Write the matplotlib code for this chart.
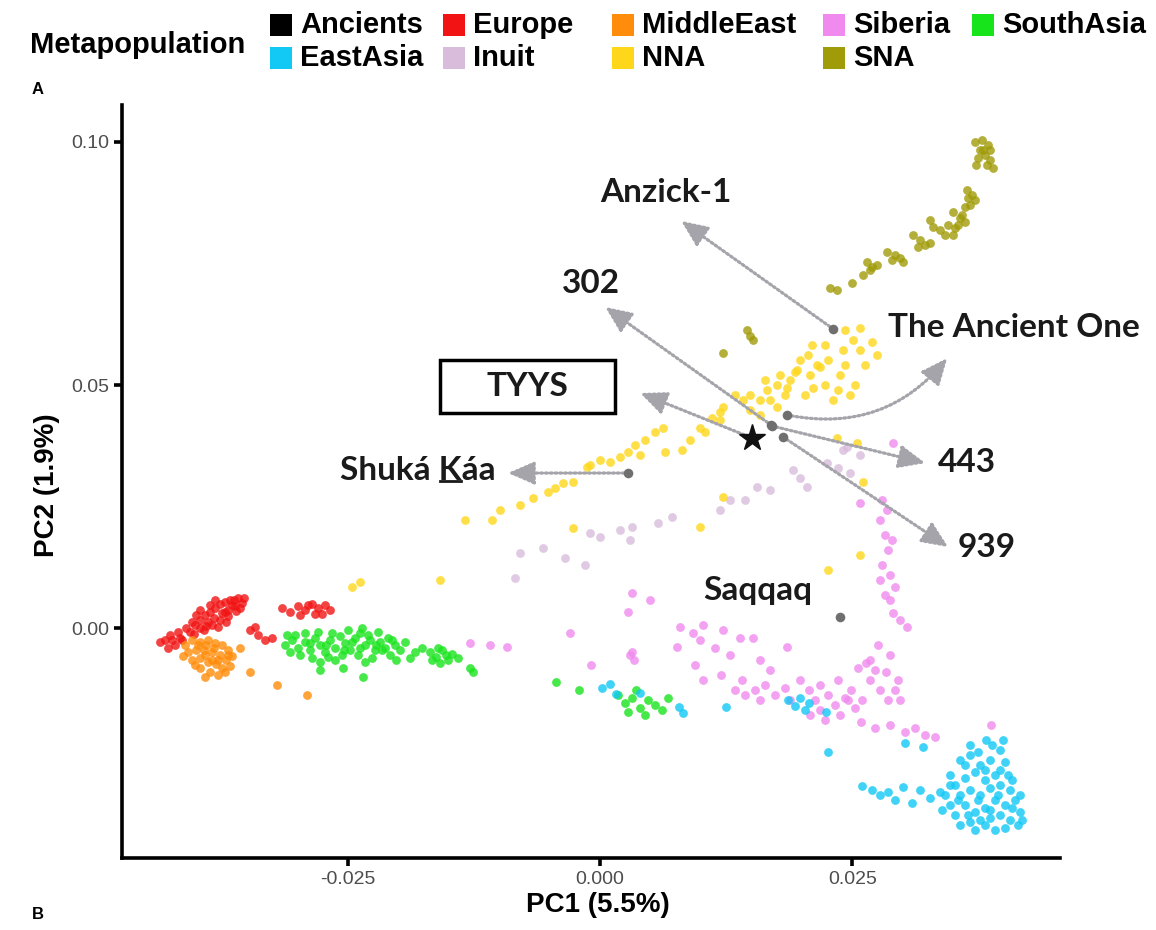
import matplotlib
matplotlib.use("Agg")
import matplotlib.pyplot as plt
from matplotlib.patches import Rectangle
from matplotlib.lines import Line2D
from matplotlib.transforms import IdentityTransform

# ---------------- data (PC1, PC2) ----------------
europe_pc1 = [-0.04067, -0.04018, -0.03968, -0.03919, -0.03869, -0.03819, -0.03770, -0.03720, -0.03671, -0.03591,
              -0.03552, -0.03621, -0.03690, -0.03750, -0.03829, -0.03889, -0.03968, -0.04028, -0.03929, -0.03849,
              -0.03770, -0.03690, -0.03611, -0.03790, -0.03710, -0.03651, -0.03571, -0.03869, -0.04008, -0.04107,
              -0.04315, -0.04266, -0.04216, -0.04167, -0.04286, -0.04187, -0.04365, -0.03472, -0.03393, -0.03323,
              -0.03254, -0.03423, -0.03155, -0.03075, -0.02996, -0.02927, -0.02857, -0.02798, -0.02728, -0.02679,
              -0.02976, -0.02827, -0.02758, -0.02897,
              -0.03968, -0.03819, -0.03720, -0.04048, -0.03909, -0.03631, -0.03532, -0.04147, -0.04246]
europe_pc2 = [-0.00082, 0.00062, 0.00165, 0.00267, 0.00329, 0.00412, 0.00494, 0.00535, 0.00576, 0.00617,
              0.00514, 0.00453, 0.00370, 0.00309, 0.00206, 0.00123, 0.0, -0.00123, -0.00041, 0.00062,
              0.00165, 0.00247, 0.00350, 0.00021, 0.00123, 0.00473, 0.00412, 0.00473, 0.00267, 0.0,
              -0.00247, -0.00144, -0.00350, -0.00206, -0.00412, -0.00082, -0.00288, -0.00041, -0.00144, -0.00247,
              -0.00206, 0.00021, 0.00412, 0.00329, 0.00453, 0.00370, 0.00494, 0.00412, 0.00473, 0.00370,
              0.00267, 0.00288, 0.00288, 0.00473,
              0.00370, 0.00576, 0.00329, 0.00123, 0.00041, 0.00576, 0.00617, -0.00247, -0.00247]

middleeast_pc1 = [-0.04117, -0.04048, -0.03968, -0.03889, -0.03819, -0.03750, -0.03690, -0.03651, -0.04087, -0.04008,
                  -0.03929, -0.03849, -0.03770, -0.03710, -0.03671, -0.04048, -0.03968, -0.03889, -0.03810, -0.03750,
                  -0.03869, -0.03790, -0.03968, -0.03919, -0.03849, -0.04018, -0.03720, -0.04137, -0.03472, -0.03204,
                  -0.02907, -0.03571,
                  -0.03829, -0.03909, -0.03988, -0.03790, -0.03919, -0.03690]
middleeast_pc2 = [-0.00350, -0.00247, -0.00288, -0.00247, -0.00309, -0.00350, -0.00453, -0.00576, -0.00494, -0.00453,
                  -0.00453, -0.00494, -0.00556, -0.00658, -0.00782, -0.00658, -0.00617, -0.00700, -0.00741, -0.00823,
                  -0.00905, -0.00967, -0.00823, -0.01008, -0.00658, -0.00761, -0.00905, -0.00576, -0.00905, -0.01173,
                  -0.01379, -0.00412,
                  -0.00412, -0.00350, -0.00350, -0.00658, -0.00556, -0.00556]

southasia_pc1 = [-0.03125, -0.03056, -0.02996, -0.02927, -0.02877, -0.02827, -0.02778, -0.02728, -0.02679, -0.02629,
                 -0.02579, -0.02530, -0.02480, -0.02431, -0.02381, -0.02331, -0.02282, -0.02232, -0.02183, -0.02133,
                 -0.02083, -0.02034, -0.02976, -0.02857, -0.02698, -0.02560, -0.02401, -0.02262, -0.02778, -0.02550,
                 -0.02351, -0.02778, -0.01984, -0.01885, -0.01766, -0.01687, -0.01627, -0.01567, -0.01508, -0.01468,
                 -0.01587, -0.01409, -0.01290, -0.01260, -0.02500, -0.02361, -0.02202, -0.02927, -0.03075, -0.01935,
                 -0.01835, -0.02103, -0.02024, -0.02629, -0.02331, -0.03105,
                 -0.03026, -0.02798, -0.02659, -0.02460, -0.02302, -0.02163, -0.02063, -0.02877, -0.02718, -0.02540,
                 -0.02381, -0.02222, -0.01607, -0.01528, -0.01667,
                 -0.00437, -0.00208, 0.00179, 0.00248, 0.00317, 0.00397, 0.00476, 0.00546, 0.00615, 0.00675,
                 0.00278, 0.00446, 0.00357]
southasia_pc2 = [-0.00350, -0.00247, -0.00412, -0.00288, -0.00453, -0.00206, -0.00350, -0.00494, -0.00247, -0.00412,
                 -0.00165, -0.00309, -0.00453, -0.00206, -0.00103, -0.00350, -0.00247, -0.00453, -0.00288, -0.00412,
                 -0.00556, -0.00350, -0.00556, -0.00617, -0.00597, -0.00556, -0.00556, -0.00617, -0.00864, -0.00823,
                 -0.01008, -0.00700, -0.00453, -0.00617, -0.00412, -0.00494, -0.00597, -0.00453, -0.00658, -0.00535,
                 -0.00720, -0.00617, -0.00823, -0.00905, -0.00041, 0.0, -0.00082, -0.00103, -0.00494, -0.00288,
                 -0.00494, -0.00206, -0.00658, -0.00658, -0.00700, -0.00144,
                 -0.00144, -0.00082, -0.00103, -0.00288, -0.00144, -0.00453, -0.00247, -0.00309, -0.00350, -0.00453,
                 -0.00412, -0.00350, -0.00412, -0.00556, -0.00658,
                 -0.01111, -0.01276, -0.01379, -0.01543, -0.01440, -0.01646, -0.01481, -0.01584, -0.01687, -0.01440,
                 -0.01728, -0.01790, -0.01276]

eastasia_pc1 = [0.00020, 0.00099, 0.00159, 0.00397, 0.00784, 0.00823, 0.01250, 0.01865, 0.01935, 0.01984,
                0.02034, 0.02073, 0.02242, 0.02262, 0.03026, 0.03204, 0.03829,
                0.02599, 0.02698, 0.02778, 0.02857, 0.02927, 0.03006, 0.03095, 0.03175, 0.03274, 0.03373, 0.03472,
                0.03571, 0.03671, 0.03770, 0.03869, 0.03968, 0.04018, 0.03919, 0.03819, 0.03720, 0.03621,
                0.03522, 0.03571, 0.03671, 0.03770, 0.03869, 0.03968, 0.04067, 0.04117, 0.04018, 0.03919,
                0.03819, 0.03720, 0.03621, 0.03522, 0.03571, 0.03671, 0.03770, 0.03869, 0.03968, 0.04067,
                0.04167, 0.04147, 0.04018, 0.03919, 0.03720, 0.03819, 0.03423, 0.03472, 0.03393, 0.03968,
                0.03889, 0.03750,
                0.03621, 0.03819, 0.04087, 0.04167, 0.03472, 0.03869, 0.04087, 0.04187, 0.03651, 0.03552,
                0.03750, 0.03948, 0.04048, 0.03671, 0.03998]
eastasia_pc2 = [-0.01235, -0.01152, -0.01358, -0.01337, -0.01626, -0.01749, -0.01626, -0.01481, -0.01605, -0.01440,
                -0.01687, -0.01543, -0.01728, -0.02551, -0.02366, -0.02449, -0.02305,
                -0.03251, -0.03333, -0.03436, -0.03374, -0.03539, -0.03272, -0.03601, -0.03333, -0.03498, -0.03374, -0.03230,
                -0.02716, -0.02613, -0.02819, -0.02716, -0.02922, -0.02757, -0.03025, -0.03128, -0.02963, -0.03086,
                -0.03230, -0.03436, -0.03333, -0.03436, -0.03292, -0.03230, -0.03333, -0.03539, -0.03642, -0.03539,
                -0.03704, -0.03786, -0.03642, -0.03848, -0.04053, -0.03992, -0.03951, -0.03909, -0.03848, -0.03951,
                -0.03786, -0.04053, -0.04115, -0.04156, -0.04156, -0.04053, -0.03436, -0.03642, -0.03745, -0.02510,
                -0.02407, -0.02551,
                -0.02819, -0.02922, -0.03128, -0.03436, -0.03025, -0.03745, -0.03704, -0.03951, -0.03848, -0.03539,
                -0.03539, -0.03436, -0.03025, -0.02407, -0.02305]

siberia_pc1 = [0.00317, 0.00496, 0.00278, -0.00298, -0.01290, -0.01091, -0.00923, 0.00794, 0.00923, 0.01022,
               0.01220, 0.01389, 0.01518, 0.00764, 0.00317, 0.00337, 0.01855, 0.02579, 0.02778, 0.02827,
               0.02857, 0.02798, 0.02877, 0.02927, 0.02827, 0.02907, 0.02976, 0.03046, 0.02907,
               -0.00089, 0.00298, 0.00942, 0.01200, 0.01022, 0.01409, 0.01538, 0.01637, 0.01736, 0.01835,
               0.01885, 0.02073, 0.02133, 0.02183, 0.02262, 0.02331, 0.02381, 0.02431, 0.02490, 0.02560,
               0.02639, 0.02728, 0.02837, 0.02679, 0.02778, 0.02589, 0.02728, 0.02877, 0.03026, 0.03125,
               0.03224, 0.03323, 0.03879, 0.02976, 0.02530, 0.02758, 0.02877, 0.02679,
               0.00992, 0.01141, 0.01290, 0.01587, 0.01687, 0.01984, 0.02183, 0.02361, 0.02460, 0.02599,
               0.02857, 0.02927, 0.02956, 0.02798, 0.02847, 0.02897, 0.02778, 0.02877, 0.01587, 0.01438,
               0.01339, 0.02232, 0.02083]
siberia_pc2 = [0.00720, 0.00576, 0.00329, -0.00103, -0.00309, -0.00350, -0.00391, 0.00021, -0.00103, 0.00062,
               -0.00041, -0.00206, -0.00206, -0.00391, -0.00494, -0.00658, -0.00391, 0.02572, 0.02222, 0.01914,
               0.01605, 0.01296, 0.01091, 0.00844, 0.00679, 0.00309, 0.00165, 0.00021, 0.03807,
               -0.00761, -0.00556, -0.00761, -0.00967, -0.01070, -0.01070, -0.01276, -0.01173, -0.01379, -0.01235,
               -0.01481, -0.01276, -0.01481, -0.01687, -0.01379, -0.01584, -0.01790, -0.01440, -0.01276, -0.00823,
               -0.00720, -0.00864, -0.00905, -0.01070, -0.01276, -0.01934, -0.02058, -0.01996, -0.02140, -0.02058,
               -0.02202, -0.02243, -0.01996, -0.01481, -0.01646, -0.00350, -0.00556, -0.00658,
               -0.00247, -0.00412, -0.00556, -0.00658, -0.00864, -0.01070, -0.01173, -0.01070, -0.01481, -0.01481,
               -0.01481, -0.01276, -0.01070, 0.02634, 0.02428, 0.01811, 0.00988, 0.00576, -0.01481, -0.01379,
               -0.01276, -0.01893, -0.01790]

inuit_pc1 = [-0.00794, -0.00565, -0.00347, -0.00149, -0.00843, -0.00099, 0.0, 0.00198, 0.00298, 0.00317,
             0.00575, 0.00714, 0.01190, 0.01290, 0.01438, 0.01558, 0.01687, 0.01915, 0.01984, 0.02054,
             0.02252, 0.02361, 0.02480, 0.02411, 0.02450, 0.02579]
inuit_pc2 = [0.01543, 0.01646, 0.01440, 0.01296, 0.01029, 0.01955, 0.01872, 0.02016, 0.01811, 0.02078,
             0.02160, 0.02284, 0.02428, 0.02634, 0.02634, 0.02901, 0.02840, 0.03251, 0.03086, 0.02901,
             0.03395, 0.03292, 0.03189, 0.03663, 0.03724, 0.03560]

nna_pc1 = [-0.01339, -0.01071, -0.00665, -0.00367, -0.00268, -0.00099, 0.0, 0.00099, 0.00198, -0.00129,
           0.00347, 0.00446, 0.00546, 0.00625, 0.00645, 0.00813, 0.00992, 0.01111, 0.01190, 0.01220,
           0.01419, 0.01657, 0.01756, 0.01855, 0.01935, 0.02153, 0.02262, 0.02381, 0.02113, 0.02312,
           0.01756, -0.00268, 0.00992, 0.01220, 0.02510, 0.02698, 0.02748, 0.02411, 0.02183, 0.01954,
           -0.02381, -0.02460, -0.01587, 0.02351, 0.02550, 0.02609, 0.02579, 0.02262, 0.02431, 0.02579,
           0.02103, 0.02361, 0.02530, 0.02629, 0.02063, 0.01885, 0.02034, 0.01587, 0.01488, 0.01339,
           -0.00516, -0.00446, -0.00992, -0.00794, 0.00278, 0.00397, 0.00893, 0.01786,
           0.01488, 0.01637, 0.01984, 0.02232, 0.02431, 0.02579, 0.01687, 0.01835, 0.02083, 0.02232,
           0.02480, 0.01190, 0.01042, 0.01587]
nna_pc2 = [0.02222, 0.02222, 0.02675, 0.02984, 0.03004, 0.03354, 0.03457, 0.03416, 0.03519, 0.03313,
           0.03765, 0.03868, 0.04033, 0.04115, 0.03621, 0.03663, 0.04115, 0.04321, 0.04444, 0.04547,
           0.04691, 0.04897, 0.05000, 0.04938, 0.05267, 0.05412, 0.05514, 0.05206, 0.04938, 0.04691,
           0.04547, 0.02058, 0.02078, 0.02695, 0.05926, 0.05885, 0.05617, 0.05720, 0.05370, 0.05309,
           0.00947, 0.00844, 0.00988, 0.03909, 0.03807, 0.03004, 0.01502, 0.01193, 0.06132, 0.06173,
           0.05823, 0.04897, 0.05000, 0.05412, 0.05617, 0.05103, 0.04794, 0.04691, 0.04486, 0.04794,
           0.02798, 0.02881, 0.02428, 0.02531, 0.03621, 0.03560, 0.03868, 0.05206,
           0.04794, 0.05103, 0.05514, 0.05823, 0.05412, 0.05720, 0.04691, 0.04794, 0.05206, 0.05000,
           0.04794, 0.04280, 0.04033, 0.04383]

sna_pc1 = [0.03720, 0.03790, 0.03849, 0.03770, 0.03819, 0.03869, 0.03750, 0.03899, 0.03839,
           0.03641, 0.03690, 0.03720, 0.03671, 0.03621,
           0.03502, 0.03571, 0.03552, 0.03621, 0.03522,
           0.03274, 0.03304, 0.03373, 0.03423, 0.03502,
           0.03105, 0.03175, 0.03224, 0.03274, 0.03155,
           0.02847, 0.02927, 0.02976, 0.03006, 0.02897,
           0.02649, 0.02698, 0.02748, 0.02679,
           0.02609, 0.02500, 0.02282, 0.02351,
           0.01458, 0.01488, 0.01518, 0.01220,
           0.03800, 0.03730, 0.03869, 0.03651, 0.03591, 0.03452]
sna_pc2 = [0.10000, 0.10041, 0.09938, 0.09835, 0.09733, 0.09630, 0.09671, 0.09465, 0.09527,
           0.09012, 0.08909, 0.08807, 0.08704, 0.08663,
           0.08560, 0.08436, 0.08292, 0.08354, 0.08230,
           0.08395, 0.08251, 0.08189, 0.08086, 0.08086,
           0.08086, 0.07984, 0.07881, 0.07922, 0.07840,
           0.07737, 0.07675, 0.07613, 0.07531, 0.07572,
           0.07531, 0.07428, 0.07469, 0.07366,
           0.07263, 0.07099, 0.06996, 0.06955,
           0.06132, 0.06008, 0.05926, 0.05658,
           0.09835, 0.09527, 0.09835, 0.08848, 0.08498, 0.08292]

# ancient individuals
ancient_names = ["Anzick-1", "302", "443", "939", "The Ancient One", "Shuká Káa", "Saqqaq"]
ancient_pc1 = [0.02312, 0.01696, 0.01706, 0.01815, 0.01855, 0.00278, 0.02381]
ancient_pc2 = [0.06152, 0.04177, 0.04156, 0.03930, 0.04383, 0.03189, 0.00226]
tyys_pc1 = 0.01508
tyys_pc2 = 0.03909

legend_labels = ["Ancients", "EastAsia", "Europe", "Inuit", "MiddleEast", "NNA", "Siberia", "SNA", "SouthAsia"]
legend_colors = ["#000000", "#12C8F5", "#F21414", "#D9BCDB", "#FF8C0A", "#FFD71A", "#F08AEE", "#A09B08", "#18E41C"]

xtick_vals = [-0.025, 0.0, 0.025]
xtick_labels = ["-0.025", "0.000", "0.025"]
ytick_vals = [0.0, 0.05, 0.10]
ytick_labels = ["0.00", "0.05", "0.10"]

# ---------------- figure ----------------
W, H = 1156, 930
fig = plt.figure(figsize=(W / 100, H / 100), dpi=100)
ax = fig.add_axes([122 / W, 1 - 858 / H, (1060 - 122) / W, (858 - 105) / H])
ax.set_xlim(-0.0474, 0.0456)
ax.set_ylim(-0.0473, 0.1076)

col = dict(zip(legend_labels, legend_colors))
S = 40
A = 0.8
ax.scatter(inuit_pc1, inuit_pc2, s=S, c=col["Inuit"], alpha=A, linewidths=0)
ax.scatter(siberia_pc1, siberia_pc2, s=S, c=col["Siberia"], alpha=A, linewidths=0)
ax.scatter(nna_pc1, nna_pc2, s=S, c=col["NNA"], alpha=A, linewidths=0)
ax.scatter(sna_pc1, sna_pc2, s=S, c=col["SNA"], alpha=A, linewidths=0)
ax.scatter(europe_pc1, europe_pc2, s=S, c=col["Europe"], alpha=A, linewidths=0)
ax.scatter(middleeast_pc1, middleeast_pc2, s=S, c=col["MiddleEast"], alpha=A, linewidths=0)
ax.scatter(southasia_pc1, southasia_pc2, s=S, c=col["SouthAsia"], alpha=A, linewidths=0)
ax.scatter(eastasia_pc1, eastasia_pc2, s=S, c=col["EastAsia"], alpha=A, linewidths=0)

# ancient samples
ax.scatter(ancient_pc1, ancient_pc2, s=48, c="#6F6F6F", linewidths=0, zorder=4)
ax.plot([tyys_pc1], [tyys_pc2], marker="*", ms=20, color="#111111", zorder=5, ls="none")


# arrows
def arrow(start, tip, rad=0.0):
    ax.annotate("", xy=tip, xytext=start,
                arrowprops=dict(arrowstyle="-|>,head_length=0.8,head_width=0.35",
                                mutation_scale=20, color="#A4A4AA", lw=2.3,
                                linestyle=(0, (0.6, 0.9)), shrinkA=3, shrinkB=0,
                                connectionstyle=f"arc3,rad={rad}"), zorder=3)


pts = dict(zip(ancient_names, zip(ancient_pc1, ancient_pc2)))
arrow(pts["Anzick-1"], (0.00804, 0.08374))
arrow(pts["302"], (0.00050, 0.06605))
arrow((tyys_pc1, tyys_pc2), (0.00397, 0.04835))
arrow(pts["The Ancient One"], (0.03442, 0.05556), rad=0.3)
arrow(pts["443"], (0.03224, 0.03395))
arrow(pts["939"], (0.03452, 0.01667))
arrow(pts["Shuká Káa"], (-0.00913, 0.03189))

lab_font = dict(family=["Lato", "DejaVu Sans"], weight="bold", fontsize=24, color="#1a1a1a",
                ha="center", va="center")
ax.text(0.00655, 0.08951, "Anzick-1", **lab_font)
ax.text(-0.00089, 0.07078, "302", **lab_font)
ax.text(-0.00724, 0.04979, "TYYS", **lab_font)
ax.text(0.04107, 0.06193, "The Ancient One", **lab_font)
ax.text(0.03641, 0.03416, "443", **lab_font)
ax.text(0.03829, 0.01667, "939", **lab_font)
shuka = ax.text(-0.01806, 0.03251, "Shuká Káa", **lab_font)
ax.text(0.01567, 0.00782, "Saqqaq", **lab_font)
ax.add_patch(Rectangle((-0.01587, 0.04424), 0.01736, 0.01090, fill=False, ec="black", lw=2.5, zorder=6))

# axes styling
for s in ["top", "right"]:
    ax.spines[s].set_visible(False)
for s in ["left", "bottom"]:
    ax.spines[s].set_linewidth(2.6)
    ax.spines[s].set_color("black")
ax.set_xticks(xtick_vals)
ax.set_xticklabels(xtick_labels)
ax.set_yticks(ytick_vals)
ax.set_yticklabels(ytick_labels)
ax.tick_params(length=6, width=2.6, color="black", labelcolor="#4D4D4D", labelsize=14, pad=3)
for t in ax.get_xticklabels() + ax.get_yticklabels():
    t.set_family("Liberation Sans")

fig.text(598 / W, 1 - 905 / H, "PC1 (5.5%)", ha="center", va="center", fontsize=20,
         fontweight="bold", family="Liberation Sans")
fig.text(47 / W, 1 - 485 / H, "PC2 (1.9%)", ha="center", va="center", rotation=90, fontsize=20,
         fontweight="bold", family="Liberation Sans")
fig.text(38 / W, 1 - 90 / H, "A", ha="center", va="center", fontsize=12, fontweight="bold",
         family="Liberation Sans")
fig.text(38 / W, 1 - 922 / H, "B", ha="center", va="bottom", fontsize=12, fontweight="bold",
         family="Liberation Sans")

# legend
fig.text(30 / W, 1 - 45 / H, "Metapopulation", ha="left", va="center", fontsize=21,
         fontweight="bold", family="Liberation Sans")
col_x = [270, 443, 612, 823, 972]
row_y = [25, 58]
for i, (lab, c) in enumerate(zip(legend_labels, legend_colors)):
    ci, ri = i // 2, i % 2
    kx, ky = col_x[ci], row_y[ri]
    fig.patches.append(Rectangle((kx / W, 1 - (ky + 11) / H), 22 / W, 22 / H,
                                 transform=fig.transFigure, fc=c, ec="none"))
    fig.text((kx + 30) / W, 1 - ky / H, lab, ha="left", va="center", fontsize=21,
             fontweight="bold", family="Liberation Sans")

# underline under the "K" of Shuká Káa
fig.canvas.draw()
rend = fig.canvas.get_renderer()
bb = shuka.get_window_extent(rend)
tmp_font = {k: v for k, v in lab_font.items() if k not in ("ha", "va")}
tmp = ax.text(0, 0, "Shuká K", ha="left", va="center", **tmp_font)
w_pre = tmp.get_window_extent(rend).width
tmp.set_text("K")
w_k = tmp.get_window_extent(rend).width
tmp.remove()
ux1 = bb.x0 + w_pre
ux0 = ux1 - w_k
uy = bb.y0 + 4
fig.add_artist(Line2D([ux0 + 1, ux1 - 1], [uy, uy], transform=IdentityTransform(),
                      color="#1a1a1a", lw=2.0))

fig.savefig("out.png", dpi=100)
